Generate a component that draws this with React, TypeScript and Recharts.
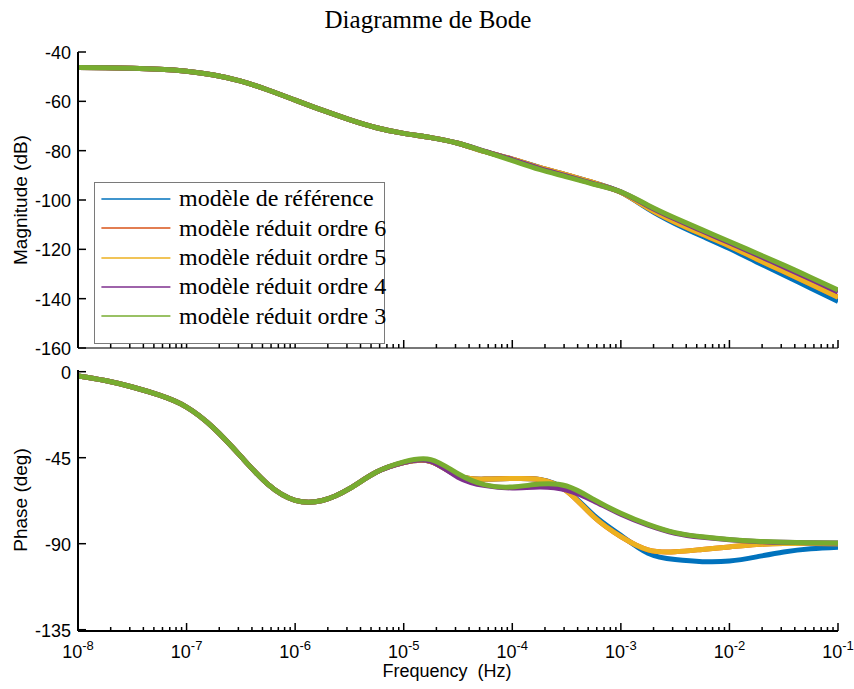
import React from 'react';
import { LineChart, Line, XAxis, YAxis, Legend } from 'recharts';

// frequency samples, a quarter decade apart (Hz)
const freq = [
  1e-8, 1.778e-8, 3.162e-8, 5.623e-8,
  1e-7, 1.778e-7, 3.162e-7, 5.623e-7,
  1e-6, 1.778e-6, 3.162e-6, 5.623e-6,
  1e-5, 1.778e-5, 3.162e-5, 5.623e-5,
  1e-4, 1.778e-4, 3.162e-4, 5.623e-4,
  1e-3, 1.778e-3, 3.162e-3, 5.623e-3,
  1e-2, 1.778e-2, 3.162e-2, 5.623e-2,
  1e-1,
];

// magnitude (dB)
const magRef = [
  -46.3, -46.4, -46.6, -47.0, -47.8, -49.3, -51.8, -55.4, -59.5, -63.6, -67.4, -70.7, -73.0, -74.7, -77.0, -80.4,
  -83.4, -86.8, -89.8, -93.0, -96.9, -103.6, -109.6, -114.7, -119.7, -125.1, -130.4, -135.8, -141.1,
];
const mag6 = [
  -46.3, -46.4, -46.6, -47.0, -47.8, -49.3, -51.8, -55.4, -59.5, -63.6, -67.4, -70.7, -73.0, -74.7, -77.0, -80.4,
  -83.4, -86.8, -89.8, -93.0, -96.9, -103.3, -109.0, -113.9, -118.6, -123.9, -129.0, -134.1, -139.3,
];
const mag5 = [
  -46.3, -46.4, -46.6, -47.0, -47.8, -49.3, -51.8, -55.4, -59.5, -63.6, -67.4, -70.7, -73.0, -74.7, -77.0, -80.4,
  -83.4, -86.8, -89.8, -93.0, -96.9, -103.3, -109.0, -113.9, -118.6, -123.9, -129.0, -134.1, -139.4,
];
const mag4 = [
  -46.3, -46.4, -46.6, -47.0, -47.8, -49.3, -51.8, -55.4, -59.5, -63.6, -67.4, -70.7, -73.0, -74.7, -77.0, -80.3,
  -83.6, -87.2, -90.2, -93.4, -96.7, -102.4, -107.7, -112.6, -117.3, -122.2, -127.1, -132.1, -137.3,
];
const mag3 = [
  -46.3, -46.4, -46.6, -47.0, -47.8, -49.3, -51.8, -55.4, -59.5, -63.6, -67.4, -70.7, -73.0, -74.7, -77.0, -80.4,
  -84.0, -87.6, -90.6, -93.6, -96.7, -102.1, -107.3, -112.1, -116.8, -121.6, -126.4, -131.4, -136.5,
];

// phase (deg)
const phRef = [
  -2.2, -4.6, -8.0, -12.3, -18.5, -29.5, -44.3, -59.0, -67.3, -67.4, -61.2, -52.5, -47.6, -47.0, -54.5, -56.2,
  -55.9, -56.4, -62.0, -75.0, -85.6, -95.0, -98.3, -99.4, -99.1, -96.9, -94.3, -92.6, -91.8,
];
const ph6 = [
  -2.2, -4.6, -8.0, -12.3, -18.5, -29.5, -44.3, -59.0, -67.3, -67.4, -61.2, -52.5, -47.6, -47.0, -54.5, -56.2,
  -55.9, -56.4, -62.4, -75.9, -86.3, -93.2, -94.2, -93.0, -91.7, -90.4, -89.9, -89.9, -90.0,
];
const ph5 = [
  -2.2, -4.6, -8.0, -12.3, -18.5, -29.5, -44.3, -59.0, -67.3, -67.4, -61.2, -52.5, -47.6, -47.0, -54.5, -56.2,
  -55.9, -56.4, -62.4, -75.9, -86.3, -93.2, -94.2, -93.0, -91.7, -90.4, -89.9, -89.9, -90.0,
];
const ph4 = [
  -2.2, -4.6, -8.0, -12.3, -18.5, -29.5, -44.3, -59.0, -67.3, -67.4, -61.2, -52.5, -47.5, -46.9, -55.2, -59.6,
  -60.8, -60.3, -61.9, -67.6, -74.6, -80.3, -84.5, -86.6, -87.9, -88.8, -89.3, -89.5, -89.6,
];
const ph3 = [
  -2.2, -4.6, -8.0, -12.3, -18.5, -29.5, -44.3, -59.0, -67.3, -67.4, -61.2, -52.5, -47.2, -46.0, -53.4, -59.2,
  -60.3, -58.8, -59.8, -66.8, -74.1, -79.9, -84.2, -86.4, -87.8, -88.7, -89.2, -89.5, -89.6,
];

const seriesNames = [
  'modèle de référence',
  'modèle réduit ordre 6',
  'modèle réduit ordre 5',
  'modèle réduit ordre 4',
  'modèle réduit ordre 3',
];
const seriesColors = ['#0072BD', '#D95319', '#EDB120', '#7E2F8E', '#77AC30'];

const decades = [1e-8, 1e-7, 1e-6, 1e-5, 1e-4, 1e-3, 1e-2, 1e-1];
const decadeExp = ['-8', '-7', '-6', '-5', '-4', '-3', '-2', '-1'];
const minorSteps = [2, 3, 4, 5, 6, 7, 8, 9];
const magTicks = [-160, -140, -120, -100, -80, -60, -40];
const phaseTicks = [-135, -90, -45, 0];

const xTicks: number[] = [];
decades.forEach((d, i) => {
  xTicks.push(d);
  if (i < decades.length - 1) minorSteps.forEach((m) => xTicks.push(d * m));
});

const magData = freq.map((f, i) => ({ f, s0: magRef[i], s1: mag6[i], s2: mag5[i], s3: mag4[i], s4: mag3[i] }));
const phData = freq.map((f, i) => ({ f, s0: phRef[i], s1: ph6[i], s2: ph5[i], s3: ph4[i], s4: ph3[i] }));

const SANS = '"Liberation Sans", Arial, Helvetica, sans-serif';
const SERIF = '"Liberation Serif", "Times New Roman", serif';

const decadeIndex = (v: number) => decades.findIndex((d) => Math.abs(v / d - 1) < 1e-6);

const BottomTick = (props: any) => {
  const { x, y, payload, showLabel } = props;
  const k = decadeIndex(payload.value);
  const len = k >= 0 ? 8 : 4;
  return (
    <g>
      <line x1={x} x2={x} y1={y} y2={y - len} stroke="#000" strokeWidth={1.5} />
      {showLabel && k >= 0 && (
        <text x={x} y={y + 27} textAnchor="middle" fontFamily={SANS} fontSize={18} fill="#000">
          10
          <tspan dy={-8} fontSize={13}>
            {decadeExp[k]}
          </tspan>
        </text>
      )}
    </g>
  );
};

const TopTick = (props: any) => {
  const { x, y, payload } = props;
  const len = decadeIndex(payload.value) >= 0 ? 8 : 4;
  return <line x1={x} x2={x} y1={y} y2={y + len} stroke="#000" strokeWidth={1.5} />;
};

const LeftTick = (props: any) => {
  const { x, y, payload } = props;
  return (
    <g>
      <line x1={x} x2={x + 8} y1={y} y2={y} stroke="#000" strokeWidth={1.5} />
      <text x={x - 7} y={y + 7} textAnchor="end" fontFamily={SANS} fontSize={18} fill="#000">
        {payload.value}
      </text>
    </g>
  );
};

const RightTick = (props: any) => {
  const { x, y } = props;
  return <line x1={x} x2={x - 8} y1={y} y2={y} stroke="#000" strokeWidth={1.5} />;
};

const renderLegend = () => (
  <div
    style={{
      width: 291,
      height: 162,
      boxSizing: 'border-box',
      border: '1px solid #7a7a7a',
      background: '#fff',
      paddingTop: 1.6,
    }}
  >
    {seriesNames.map((name, i) => (
      <div key={name} style={{ display: 'flex', alignItems: 'center', height: 29.4 }}>
        <svg width={77} height={4} style={{ flex: 'none', display: 'block' }}>
          <line x1={6.4} x2={75.4} y1={2} y2={2} stroke={seriesColors[i]} strokeWidth={1.3} />
        </svg>
        <span
          style={{
            fontFamily: SERIF,
            fontSize: 24,
            lineHeight: '29px',
            marginLeft: 7,
            color: '#000',
            whiteSpace: 'nowrap',
          }}
        >
          {name}
        </span>
      </div>
    ))}
  </div>
);

const renderLines = () =>
  seriesNames.map((name, i) => (
    <Line
      key={name}
      xAxisId="b"
      yAxisId="l"
      dataKey={`s${i}`}
      name={name}
      type="natural"
      stroke={seriesColors[i]}
      strokeWidth={5}
      dot={false}
      activeDot={false}
      isAnimationActive={false}
    />
  ));

const xAxes = (showLabel: boolean, bottomStroke: string, bottomHeight: number) => [
  <XAxis
    key="b"
    xAxisId="b"
    dataKey="f"
    type="number"
    scale="log"
    domain={[1e-8, 1e-1]}
    allowDataOverflow
    ticks={xTicks}
    interval={0}
    height={bottomHeight}
    tickSize={0}
    tickMargin={0}
    tickLine={false}
    axisLine={{ stroke: bottomStroke, strokeWidth: 2 }}
    tick={(p: any) => <BottomTick {...p} showLabel={showLabel} />}
  />,
  <XAxis
    key="t"
    xAxisId="t"
    orientation="top"
    dataKey="f"
    type="number"
    scale="log"
    domain={[1e-8, 1e-1]}
    allowDataOverflow
    ticks={xTicks}
    interval={0}
    height={0}
    tickSize={0}
    tickMargin={0}
    tickLine={false}
    axisLine={{ stroke: '#000', strokeWidth: 2 }}
    tick={(p: any) => <TopTick {...p} />}
  />,
];

const yAxes = (domain: number[], ticks: number[]) => [
  <YAxis
    key="l"
    yAxisId="l"
    type="number"
    domain={domain}
    allowDataOverflow
    ticks={ticks}
    interval={0}
    width={78}
    tickSize={0}
    tickMargin={0}
    tickLine={false}
    axisLine={{ stroke: '#000', strokeWidth: 2 }}
    tick={(p: any) => <LeftTick {...p} />}
  />,
  <YAxis
    key="r"
    yAxisId="r"
    orientation="right"
    type="number"
    domain={domain}
    allowDataOverflow
    ticks={ticks}
    interval={0}
    width={0}
    tickSize={0}
    tickMargin={0}
    tickLine={false}
    axisLine={{ stroke: '#000', strokeWidth: 2 }}
    tick={(p: any) => <RightTick {...p} />}
  />,
];

export default function App() {
  return (
    <div style={{ position: 'absolute', left: 0, top: 0, width: 854, height: 689, background: '#fff' }}>
      <div style={{ position: 'absolute', left: 0, top: 0 }}>
        <LineChart width={854} height={360} data={magData} margin={{ top: 52, right: 16, bottom: 0, left: 0 }}>
          {xAxes(false, '#777', 12)}
          {yAxes([-160, -40], magTicks)}
          {renderLines()}
          <Legend
            layout="horizontal"
            verticalAlign="middle"
            align="center"
            content={renderLegend}
            wrapperStyle={{ left: 94, top: 181.5, width: 291, height: 162 }}
          />
        </LineChart>
      </div>
      <div style={{ position: 'absolute', left: 0, top: 360 }}>
        <LineChart width={854} height={329} data={phData} margin={{ top: 10, right: 16, bottom: 0, left: 0 }}>
          {xAxes(true, '#000', 58)}
          {yAxes([-135.68, 0.89], phaseTicks)}
          {renderLines()}
        </LineChart>
      </div>
      <svg
        width={854}
        height={689}
        style={{ position: 'absolute', left: 0, top: 0, pointerEvents: 'none' }}
      >
        <text x={428} y={28} textAnchor="middle" fontFamily={SERIF} fontSize={25} fill="#000">
          Diagramme de Bode
        </text>
        <text
          x={27}
          y={200}
          transform="rotate(-90, 27, 200)"
          textAnchor="middle"
          fontFamily={SANS}
          fontSize={19}
          fill="#000"
        >
          Magnitude (dB)
        </text>
        <text
          x={27}
          y={500}
          transform="rotate(-90, 27, 500)"
          textAnchor="middle"
          fontFamily={SANS}
          fontSize={19}
          fill="#000"
        >
          Phase (deg)
        </text>
        <text
          x={447}
          y={677}
          textAnchor="middle"
          fontFamily={SANS}
          fontSize={18}
          fill="#000"
          style={{ whiteSpace: 'pre' }}
        >
          {'Frequency  (Hz)'}
        </text>
      </svg>
    </div>
  );
}
